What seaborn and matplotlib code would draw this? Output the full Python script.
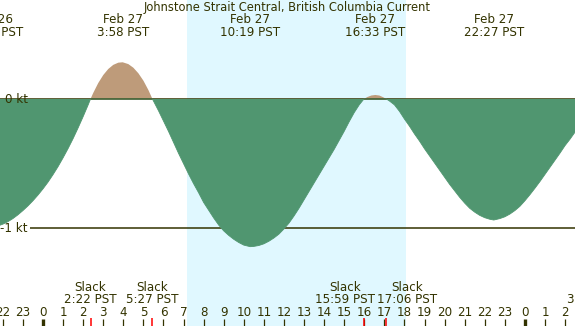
import numpy as np
import pandas as pd
import matplotlib
matplotlib.use("Agg")
import matplotlib.pyplot as plt
import seaborn as sns

# hours from midnight Feb 27 (PST) and current in knots
hours = [-2.5, -2.25, -2.0, -1.75, -1.5, -1.25, -1.0, -0.75, -0.5, -0.25,
         0.0, 0.25, 0.5, 0.75, 1.0, 1.25, 1.5, 1.75, 2.0, 2.25, 2.367,
         2.5, 2.75, 3.0, 3.25, 3.5, 3.75, 3.967, 4.25, 4.5, 4.75, 5.0, 5.25, 5.45,
         5.5, 5.75, 6.0, 6.25, 6.5, 6.75, 7.0, 7.25, 7.5, 7.75, 8.0, 8.25, 8.5,
         8.75, 9.0, 9.25, 9.5, 9.75, 10.0, 10.317, 10.5, 10.75, 11.0, 11.25,
         11.5, 11.75, 12.0, 12.25, 12.5, 12.75, 13.0, 13.25, 13.5, 13.75, 14.0,
         14.25, 14.5, 14.75, 15.0, 15.25, 15.5, 15.75, 15.983,
         16.15, 16.35, 16.55, 16.75, 16.95, 17.1,
         17.25, 17.5, 17.75, 18.0, 18.25, 18.5, 18.75, 19.0, 19.25, 19.5, 19.75,
         20.0, 20.25, 20.5, 20.75, 21.0, 21.25, 21.5, 21.75, 22.0, 22.25, 22.45,
         22.75, 23.0, 23.25, 23.5, 23.75, 24.0, 24.25, 24.5, 24.75, 25.0, 25.25,
         25.5, 25.75, 26.0, 26.25, 26.5, 26.6]
knots = [-0.991, -0.982, -0.968, -0.949, -0.925, -0.896, -0.863, -0.827, -0.787, -0.743,
         -0.695, -0.643, -0.585, -0.523, -0.455, -0.383, -0.306, -0.223, -0.136, -0.045, 0.0,
         0.046, 0.123, 0.185, 0.232, 0.264, 0.281, 0.284, 0.27, 0.242, 0.199, 0.142, 0.069, 0.0,
         -0.015, -0.09, -0.17, -0.25, -0.335, -0.42, -0.5, -0.58, -0.655, -0.725, -0.8, -0.86, -0.92,
         -0.975, -1.02, -1.055, -1.085, -1.11, -1.13, -1.142, -1.14, -1.133, -1.12, -1.1,
         -1.075, -1.045, -1.005, -0.96, -0.905, -0.845, -0.78, -0.715, -0.65, -0.585, -0.52,
         -0.455, -0.39, -0.32, -0.25, -0.175, -0.105, -0.045, 0.0,
         0.015, 0.027, 0.031, 0.027, 0.013, 0.0,
         -0.015, -0.045, -0.095, -0.155, -0.21, -0.27, -0.325, -0.385, -0.44, -0.495, -0.55,
         -0.605, -0.66, -0.71, -0.76, -0.805, -0.845, -0.875, -0.9, -0.918, -0.93, -0.936,
         -0.925, -0.911, -0.89, -0.863, -0.83, -0.787, -0.74, -0.69, -0.638, -0.583, -0.528,
         -0.473, -0.418, -0.36, -0.31, -0.255, -0.235]

peak_times = [-2.48, 3.967, 10.317, 16.55, 22.45]
peak_days = ["Feb 26", "Feb 27", "Feb 27", "Feb 27", "Feb 27"]
peak_labels = ["21:31 PST", "3:58 PST", "10:19 PST", "16:33 PST", "22:27 PST"]

slack_times = [2.367, 5.45, 15.983, 17.1]
slack_labels = ["2:22 PST", "5:27 PST", "15:59 PST", "17:06 PST"]
# where the slack labels sit (the last two are pushed apart so they do not collide)
slack_label_pos = [2.367, 5.45, 15.03, 18.12]

sunrise, sunset = 7.17, 18.08
hour_ticks = list(range(-2, 27))
midnights = [0, 24]

df = pd.DataFrame({"hour": hours, "kt": knots})
df["ebb"] = df["kt"].clip(upper=0)

night = "#b0c4de"
day = "#e0f8ff"
green = "#509670"
brown = "#be9b7a"
ink = "#333300"

sns.set_theme(style="white")
plt.rcParams["font.family"] = ["DejaVu Sans"]
fs = 8.6

fig = plt.figure(figsize=(5.75, 3.26), dpi=100)
ax = fig.add_axes([0, 0, 1, 1])
ax.set_facecolor(night)
ax.axvspan(sunrise, sunset, color=day, lw=0, zorder=0)

x = df["hour"].to_numpy()
y = df["kt"].to_numpy()
ax.fill_between(x, y, 0, where=y >= 0, interpolate=True, color=brown, lw=0, zorder=1)
ax.axhline(0, color=ink, lw=1.1, zorder=2)
ax.hlines(-1, -0.65, 27, color=ink, lw=1.1, zorder=2)
ax.fill_between(x, y, 0, where=y <= 0, interpolate=True, color=green, lw=0, zorder=3)
sns.lineplot(data=df, x="hour", y="ebb", color=green, lw=0.6, ax=ax, zorder=3)

ax.set_xlim(-2.141, 26.494)
ax.set_ylim(-1.7556, 0.7657)
ax.axis("off")

tr = ax.get_xaxis_transform()
def fy(py):
    return 1 - py / 326.0

ax.text(0.5, fy(7), "Johnstone Strait Central, British Columbia Current",
        transform=ax.transAxes, ha="center", va="center", fontsize=8.3, color=ink, zorder=5)
for t, d, lab in zip(peak_times, peak_days, peak_labels):
    ax.text(t, fy(19.5), d, transform=tr, ha="center", va="center", fontsize=fs, color=ink, zorder=5)
    ax.text(t, fy(32.5), lab, transform=tr, ha="center", va="center", fontsize=fs, color=ink, zorder=5)

ax.text(-0.75, 0, "0 kt", ha="right", va="center", fontsize=fs, color=ink, zorder=5)
ax.text(-0.75, -1, "-1 kt", ha="right", va="center", fontsize=fs, color=ink, zorder=5)

for t, tx, lab in zip(slack_times, slack_label_pos, slack_labels):
    ax.text(tx, fy(287.5), "Slack", transform=tr, ha="center", va="center", fontsize=fs, color=ink, zorder=5)
    ax.text(tx, fy(299.5), lab, transform=tr, ha="center", va="center", fontsize=fs, color=ink, zorder=5)
    ax.vlines(t, 0, fy(317.5), transform=tr, color="red", lw=1.1, zorder=5)

for h in hour_ticks:
    ax.text(h, fy(312), str(h % 24), transform=tr, ha="center", va="center", fontsize=fs, color=ink, zorder=5)
    w = 2.4 if h in midnights else 0.9
    ax.vlines(h, 0, fy(318.5), transform=tr, color=ink, lw=w, zorder=4)
# next hour label pushed inside the right edge
ax.text(0.998, fy(299.5), str(27 % 24), transform=ax.transAxes, ha="right", va="center",
        fontsize=fs, color=ink, zorder=5)

fig.savefig("out.png", dpi=100)
